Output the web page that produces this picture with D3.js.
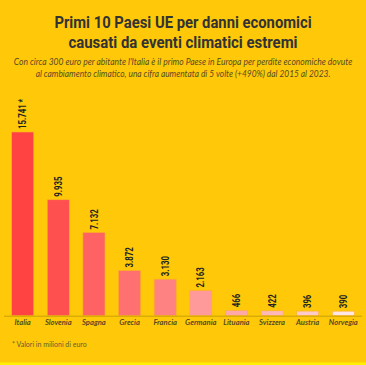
<!DOCTYPE html>
<html><head><meta charset="utf-8">
<script src="https://cdn.jsdelivr.net/npm/d3@7"></script>
<style>html,body{margin:0;padding:0;background:#FFC90A;}svg{display:block;}</style>
</head><body>
<script>
const categories = ["Italia","Slovenia","Spagna","Grecia","Francia","Germania","Lituania","Svizzera","Austria","Norvegia"];
const values = [15741, 9935, 7132, 3872, 3130, 2163, 466, 422, 396, 390];
const valueLabels = ["15.741 *","9.935","7.132","3.872","3.130","2.163","466","422","396","390"];
const colors = ["#FF4242","#FF5050","#FF6262","#FF7070","#FF8282","#FF9A9A","#FFA8A8","#FFB8B8","#FFCACA","#FFE6E6"];
const titleLines = ["Primi 10 Paesi UE per danni economici","causati da eventi climatici estremi"];
const subtitleLines = ["Con circa 300 euro per abitante l'Italia è il primo Paese in Europa per perdite economiche dovute","al cambiamento climatico, una cifra aumentata di 5 volte (+490%) dal 2015 al 2023."];
const footnote = "* Valori in milioni di euro";

const W = 366, H = 365;
const svg = d3.select("body").append("svg").attr("width", W).attr("height", H);
svg.append("rect").attr("width", W).attr("height", H).attr("fill", "#FFC90A");
svg.append("rect").attr("x", 0).attr("y", 362.5).attr("width", W).attr("height", 3).attr("fill", "#FFEF00");

const sans = "'Roboto','Liberation Sans',sans-serif";

// title: condensed by horizontal scaling to reference width
const titleG = svg.selectAll("g.title").data(titleLines).join("g").attr("class","title");
titleG.each(function(d,i){
  const g = d3.select(this);
  const t = g.append("text").attr("x",0).attr("y",0).attr("text-anchor","middle")
    .attr("font-family", sans).attr("font-weight","bold").attr("font-size",16.8).attr("fill","#333").text(d);
  const w = t.node().getComputedTextLength();
  const target = i===0 ? 257 : 229;
  g.attr("transform", `translate(${W/2},${27.5 + i*20}) scale(${target/w},1)`);
});

const subG = svg.selectAll("g.sub").data(subtitleLines).join("g").attr("class","sub");
subG.each(function(d,i){
  const g = d3.select(this);
  const t = g.append("text").attr("x",0).attr("y",0).attr("text-anchor","middle")
    .attr("font-family","'Lato','Open Sans',sans-serif").attr("font-style","italic")
    .attr("font-size",8.6).attr("fill","#5a4a20").text(d);
  const w = t.node().getComputedTextLength();
  const target = i===0 ? 339 : 295;
  g.attr("transform", `translate(${W/2},${65 + i*12}) scale(${target/w},1)`);
});

const x = d3.scaleBand().domain(categories).range([4.5, 361.5]).paddingInner(0.38).paddingOuter(0.2);
const baseY = 315.7;
const y = d3.scaleLinear().domain([0, 15741]).range([baseY, 132]);

svg.selectAll("rect.bar").data(values).join("rect")
  .attr("class","bar")
  .attr("x",(d,i)=>x(categories[i])).attr("width", x.bandwidth())
  .attr("y", d=>y(d)).attr("height", d=>baseY - y(d))
  .attr("fill",(d,i)=>colors[i]).attr("stroke","#FFB020").attr("stroke-width",0.6);

svg.append("line").attr("x1",4).attr("x2",362).attr("y1",baseY+0.5).attr("y2",baseY+0.5)
  .attr("stroke","#C9A100").attr("stroke-width",1);

svg.selectAll("text.val").data(values).join("text")
  .attr("class","val")
  .attr("transform",(d,i)=>`translate(${x(categories[i])+x.bandwidth()/2+3.6},${y(d)-3}) rotate(-90) scale(0.78,1)`)
  .attr("font-family", sans).attr("font-weight","bold")
  .attr("font-size",10).attr("fill","#222")
  .text((d,i)=>valueLabels[i]);

svg.selectAll("text.cat").data(categories).join("text")
  .attr("class","cat")
  .attr("x", d=>x(d)+x.bandwidth()/2).attr("y", 325)
  .attr("text-anchor","middle").attr("font-family","'Lato','Open Sans',sans-serif")
  .attr("font-style","italic").attr("font-weight","bold").attr("font-size",7.6).attr("fill","#5a4a20")
  .text(d=>d);

svg.append("text").attr("x", 12).attr("y", 346.5)
  .attr("font-family","'Lato','Open Sans',sans-serif").attr("font-size",7).attr("fill","#6a5a30")
  .text(footnote);
</script>
</body></html>
